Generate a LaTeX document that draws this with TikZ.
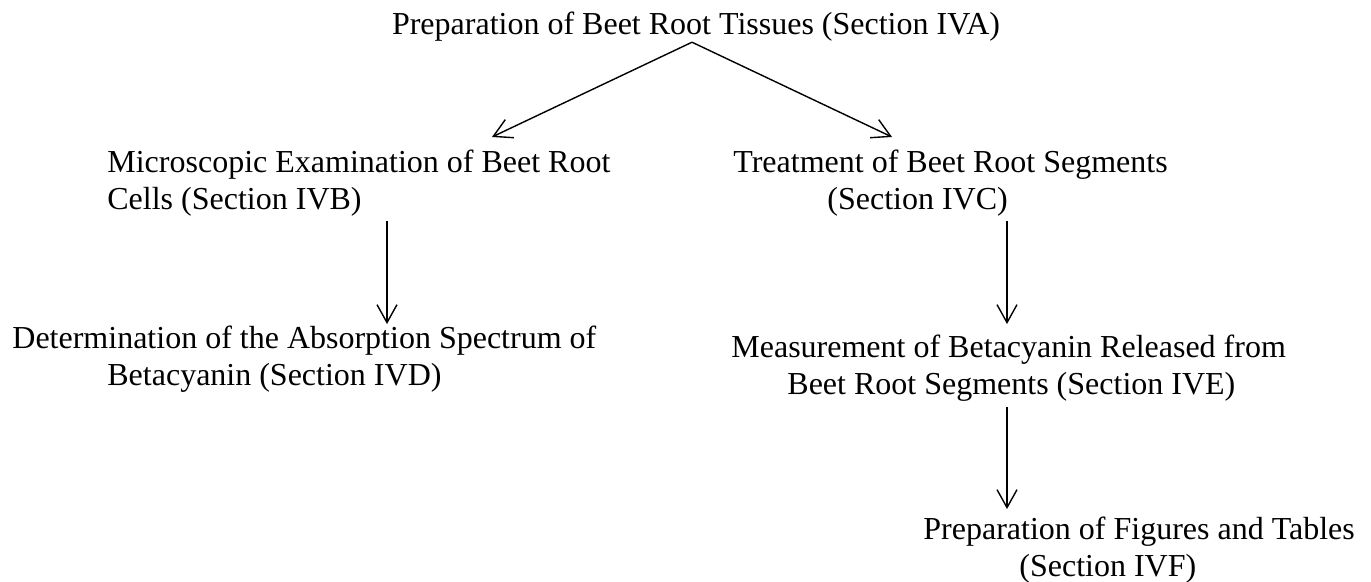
\documentclass[tikz,border=0pt]{standalone}
\usepackage{fontspec}
\setmainfont{Liberation Serif}
\usetikzlibrary{arrows.meta}

\begin{document}
\begin{tikzpicture}[
x=0.5pt, y=-0.5pt,
txt/.style={align=left, inner sep=0pt, anchor=base west, font=\fontsize{16}{18.5}\selectfont},
link/.style={-{Straight Barb[length=9pt,width=10pt]}, line width=0.7pt}
]
\useasboundingbox (0,0) rectangle (1371,582);

% multi-line nodes sit on the baseline of their last line
\node[txt, anchor=base](prep) at (696,35){Preparation of Beet Root Tissues (Section IVA)};
\node[txt](micro) at (107,210){Microscopic Examination of Beet Root\\Cells (Section IVB)};
\node[txt](treat) at (733,210){Treatment of Beet Root Segments\\\hspace*{47pt}(Section IVC)};
\node[txt](absorb) at (12,386){Determination of the Absorption Spectrum of\\\hspace*{47.5pt}Betacyanin (Section IVD)};
\node[txt](measure) at (731,395){Measurement of Betacyanin Released from\\\hspace*{28pt}Beet Root Segments (Section IVE)};
\node[txt](figs) at (923,576){Preparation of Figures and Tables\\\hspace*{48pt}(Section IVF)};

\coordinate (micro_tip) at (492,137);
\coordinate (treat_tip) at (892,137);
\coordinate (left_col) at (387,0);
\coordinate (right_col) at (1007,0);

\draw[link] ([xshift=-2pt]prep.south) -- (micro_tip);
\draw[link] ([xshift=-2pt]prep.south) -- (treat_tip);
\draw[link] ([yshift=-2pt]micro.south -| left_col) -- ([yshift=1pt]absorb.north -| left_col);
\draw[link] ([yshift=-2pt]treat.south -| right_col) -- ([yshift=5.5pt]measure.north -| right_col);
\draw[link] ([yshift=-2.5pt]measure.south -| right_col) -- ([yshift=3.5pt]figs.north -| right_col);

\end{tikzpicture}
\end{document}
